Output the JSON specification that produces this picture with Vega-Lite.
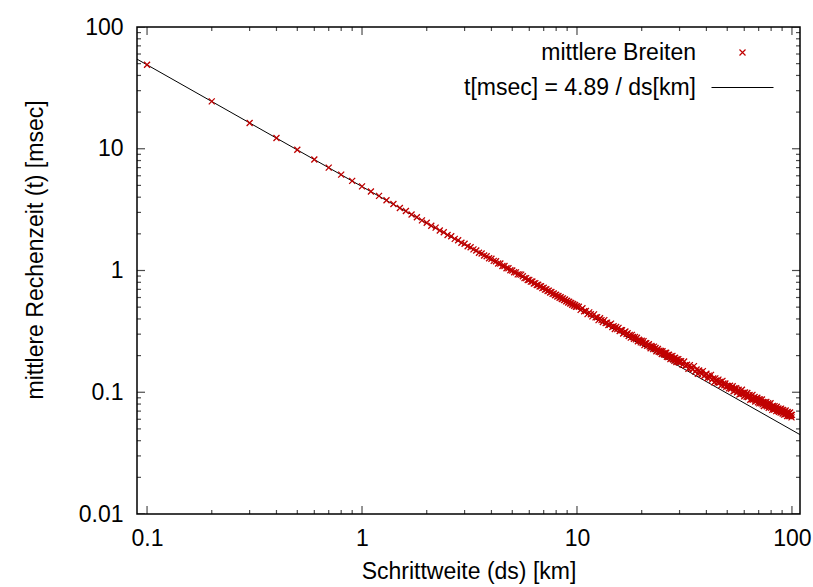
{
  "$schema": "https://vega.github.io/schema/vega-lite/v6.json",
  "width": 663,
  "height": 487,
  "autosize": {"type": "none"},
  "padding": {"left": 137, "top": 27, "right": 13, "bottom": 73},
  "background": "white",
  "config": {
    "font": "Liberation Sans",
    "view": {"stroke": "black", "strokeWidth": 1.5},
    "axis": {
      "grid": false,
      "domain": false,
      "ticks": false,
      "labelColor": "black",
      "titleColor": "black",
      "labelFont": "Liberation Sans",
      "titleFont": "Liberation Sans",
      "labelFontSize": 23,
      "titleFontSize": 23,
      "titleFontWeight": "normal",
      "labelFlush": false,
      "labelOverlap": false
    }
  },
  "datasets": {
    "xmaj": [{"v": 0.1}, {"v": 1}, {"v": 10}, {"v": 100}],
    "xmin": [{"v": 0.2}, {"v": 0.3}, {"v": 0.4}, {"v": 0.5}, {"v": 0.6}, {"v": 0.7}, {"v": 0.8}, {"v": 0.9},
             {"v": 2}, {"v": 3}, {"v": 4}, {"v": 5}, {"v": 6}, {"v": 7}, {"v": 8}, {"v": 9},
             {"v": 20}, {"v": 30}, {"v": 40}, {"v": 50}, {"v": 60}, {"v": 70}, {"v": 80}, {"v": 90}],
    "ymaj": [{"v": 0.01}, {"v": 0.1}, {"v": 1}, {"v": 10}, {"v": 100}],
    "ymin": [{"v": 0.02}, {"v": 0.03}, {"v": 0.04}, {"v": 0.05}, {"v": 0.06}, {"v": 0.07}, {"v": 0.08}, {"v": 0.09},
             {"v": 0.2}, {"v": 0.3}, {"v": 0.4}, {"v": 0.5}, {"v": 0.6}, {"v": 0.7}, {"v": 0.8}, {"v": 0.9},
             {"v": 2}, {"v": 3}, {"v": 4}, {"v": 5}, {"v": 6}, {"v": 7}, {"v": 8}, {"v": 9},
             {"v": 20}, {"v": 30}, {"v": 40}, {"v": 50}, {"v": 60}, {"v": 70}, {"v": 80}, {"v": 90}],
    "fit": [
      {"ds": 0.0898, "t": 54.45},
      {"ds": 109, "t": 0.04486}
    ],
    "obs": [
      {"ds": 0.1, "t": 48.9}, {"ds": 0.2, "t": 24.5}, {"ds": 0.3, "t": 16.3}, {"ds": 0.4, "t": 12.25}, {"ds": 0.5, "t": 9.8},
      {"ds": 0.6, "t": 8.16}, {"ds": 0.7, "t": 7.0}, {"ds": 0.8, "t": 6.13}, {"ds": 0.9, "t": 5.45}, {"ds": 1.0, "t": 4.91},
      {"ds": 1.1, "t": 4.46}, {"ds": 1.2, "t": 4.1}, {"ds": 1.3, "t": 3.77}, {"ds": 1.4, "t": 3.52}, {"ds": 1.5, "t": 3.26},
      {"ds": 1.6, "t": 3.08}, {"ds": 1.7, "t": 2.88}, {"ds": 1.8, "t": 2.74}, {"ds": 1.9, "t": 2.58}, {"ds": 2.0, "t": 2.47},
      {"ds": 2.1, "t": 2.33}, {"ds": 2.2, "t": 2.25}, {"ds": 2.3, "t": 2.13}, {"ds": 2.4, "t": 2.06}, {"ds": 2.5, "t": 1.96},
      {"ds": 2.6, "t": 1.91}, {"ds": 2.7, "t": 1.82}, {"ds": 2.8, "t": 1.77}, {"ds": 2.9, "t": 1.69}, {"ds": 3.0, "t": 1.66},
      {"ds": 3.1, "t": 1.58}, {"ds": 3.2, "t": 1.55}, {"ds": 3.3, "t": 1.49}, {"ds": 3.4, "t": 1.46}, {"ds": 3.5, "t": 1.4},
      {"ds": 3.6, "t": 1.38}, {"ds": 3.7, "t": 1.33}, {"ds": 3.8, "t": 1.31}, {"ds": 3.9, "t": 1.26}, {"ds": 4.0, "t": 1.25},
      {"ds": 4.1, "t": 1.2}, {"ds": 4.2, "t": 1.19}, {"ds": 4.3, "t": 1.14}, {"ds": 4.4, "t": 1.14}, {"ds": 4.5, "t": 1.09},
      {"ds": 4.6, "t": 1.09}, {"ds": 4.7, "t": 1.045}, {"ds": 4.8, "t": 1.045}, {"ds": 4.9, "t": 1.005}, {"ds": 5.0, "t": 1.0},
      {"ds": 5.1, "t": 0.966}, {"ds": 5.2, "t": 0.965}, {"ds": 5.3, "t": 0.93}, {"ds": 5.4, "t": 0.93}, {"ds": 5.5, "t": 0.925},
      {"ds": 5.6, "t": 0.897}, {"ds": 5.7, "t": 0.866}, {"ds": 5.8, "t": 0.866}, {"ds": 5.9, "t": 0.836}, {"ds": 6.0, "t": 0.838},
      {"ds": 6.1, "t": 0.81}, {"ds": 6.2, "t": 0.812}, {"ds": 6.3, "t": 0.783}, {"ds": 6.4, "t": 0.787}, {"ds": 6.5, "t": 0.76},
      {"ds": 6.6, "t": 0.764}, {"ds": 6.7, "t": 0.738}, {"ds": 6.8, "t": 0.742}, {"ds": 6.9, "t": 0.716}, {"ds": 7.0, "t": 0.722},
      {"ds": 7.1, "t": 0.697}, {"ds": 7.2, "t": 0.701}, {"ds": 7.3, "t": 0.678}, {"ds": 7.4, "t": 0.683}, {"ds": 7.5, "t": 0.66},
      {"ds": 7.6, "t": 0.665}, {"ds": 7.7, "t": 0.643}, {"ds": 7.8, "t": 0.648}, {"ds": 7.9, "t": 0.627}, {"ds": 8.0, "t": 0.633},
      {"ds": 8.1, "t": 0.612}, {"ds": 8.2, "t": 0.617}, {"ds": 8.3, "t": 0.598}, {"ds": 8.4, "t": 0.603}, {"ds": 8.5, "t": 0.584},
      {"ds": 8.6, "t": 0.59}, {"ds": 8.7, "t": 0.571}, {"ds": 8.8, "t": 0.577}, {"ds": 8.9, "t": 0.558}, {"ds": 9.0, "t": 0.564},
      {"ds": 9.1, "t": 0.546}, {"ds": 9.2, "t": 0.553}, {"ds": 9.3, "t": 0.535}, {"ds": 9.4, "t": 0.541}, {"ds": 9.5, "t": 0.524},
      {"ds": 9.6, "t": 0.53}, {"ds": 9.7, "t": 0.513}, {"ds": 9.8, "t": 0.52}, {"ds": 9.9, "t": 0.503}, {"ds": 10.0, "t": 0.509},
      {"ds": 10.2, "t": 0.504}, {"ds": 10.4, "t": 0.475}, {"ds": 10.6, "t": 0.49}, {"ds": 10.8, "t": 0.463}, {"ds": 11.0, "t": 0.465},
      {"ds": 11.2, "t": 0.438}, {"ds": 11.4, "t": 0.453}, {"ds": 11.6, "t": 0.437}, {"ds": 11.8, "t": 0.42}, {"ds": 12.0, "t": 0.436},
      {"ds": 12.2, "t": 0.412}, {"ds": 12.4, "t": 0.413}, {"ds": 12.6, "t": 0.391}, {"ds": 12.8, "t": 0.405}, {"ds": 13.0, "t": 0.391},
      {"ds": 13.2, "t": 0.377}, {"ds": 13.4, "t": 0.391}, {"ds": 13.6, "t": 0.371}, {"ds": 13.8, "t": 0.373}, {"ds": 14.0, "t": 0.357},
      {"ds": 14.2, "t": 0.359}, {"ds": 14.4, "t": 0.366}, {"ds": 14.6, "t": 0.343}, {"ds": 14.8, "t": 0.348}, {"ds": 15.0, "t": 0.331},
      {"ds": 15.2, "t": 0.344}, {"ds": 15.4, "t": 0.33}, {"ds": 15.6, "t": 0.338}, {"ds": 15.8, "t": 0.318}, {"ds": 16.0, "t": 0.324},
      {"ds": 16.2, "t": 0.323}, {"ds": 16.4, "t": 0.304}, {"ds": 16.6, "t": 0.31}, {"ds": 16.8, "t": 0.315}, {"ds": 17.0, "t": 0.3},
      {"ds": 17.2, "t": 0.305}, {"ds": 17.4, "t": 0.29}, {"ds": 17.6, "t": 0.296}, {"ds": 17.8, "t": 0.281}, {"ds": 18.0, "t": 0.296},
      {"ds": 18.2, "t": 0.284}, {"ds": 18.4, "t": 0.275}, {"ds": 18.6, "t": 0.284}, {"ds": 18.8, "t": 0.272}, {"ds": 19.0, "t": 0.28},
      {"ds": 19.2, "t": 0.262}, {"ds": 19.4, "t": 0.27}, {"ds": 19.6, "t": 0.265}, {"ds": 19.8, "t": 0.257}, {"ds": 20.0, "t": 0.265},
      {"ds": 20.2, "t": 0.254}, {"ds": 20.4, "t": 0.263}, {"ds": 20.6, "t": 0.244}, {"ds": 20.8, "t": 0.253}, {"ds": 21.0, "t": 0.253},
      {"ds": 21.2, "t": 0.241}, {"ds": 21.4, "t": 0.244}, {"ds": 21.6, "t": 0.248}, {"ds": 21.8, "t": 0.237}, {"ds": 22.0, "t": 0.23},
      {"ds": 22.2, "t": 0.24}, {"ds": 22.4, "t": 0.235}, {"ds": 22.6, "t": 0.226}, {"ds": 22.8, "t": 0.237}, {"ds": 23.0, "t": 0.226},
      {"ds": 23.2, "t": 0.231}, {"ds": 23.4, "t": 0.217}, {"ds": 23.6, "t": 0.222}, {"ds": 23.8, "t": 0.227}, {"ds": 24.0, "t": 0.215},
      {"ds": 24.2, "t": 0.219}, {"ds": 24.4, "t": 0.213}, {"ds": 24.6, "t": 0.218}, {"ds": 24.8, "t": 0.206}, {"ds": 25.0, "t": 0.217},
      {"ds": 25.2, "t": 0.209}, {"ds": 25.4, "t": 0.204}, {"ds": 25.6, "t": 0.21}, {"ds": 25.8, "t": 0.203}, {"ds": 26.0, "t": 0.211},
      {"ds": 26.2, "t": 0.196}, {"ds": 26.4, "t": 0.202}, {"ds": 26.6, "t": 0.195}, {"ds": 26.8, "t": 0.203}, {"ds": 27.0, "t": 0.196},
      {"ds": 27.2, "t": 0.187}, {"ds": 27.4, "t": 0.197}, {"ds": 27.6, "t": 0.19}, {"ds": 27.8, "t": 0.199}, {"ds": 28.0, "t": 0.186},
      {"ds": 28.2, "t": 0.19}, {"ds": 28.4, "t": 0.181}, {"ds": 28.6, "t": 0.192}, {"ds": 28.8, "t": 0.185}, {"ds": 29.0, "t": 0.177},
      {"ds": 29.2, "t": 0.186}, {"ds": 29.4, "t": 0.179}, {"ds": 29.6, "t": 0.187}, {"ds": 29.8, "t": 0.175}, {"ds": 30.0, "t": 0.18},
      {"ds": 30.5, "t": 0.18}, {"ds": 31.0, "t": 0.168}, {"ds": 31.5, "t": 0.179}, {"ds": 32.0, "t": 0.166}, {"ds": 32.5, "t": 0.168},
      {"ds": 33.0, "t": 0.156}, {"ds": 33.5, "t": 0.167}, {"ds": 34.0, "t": 0.159}, {"ds": 34.5, "t": 0.154}, {"ds": 35.0, "t": 0.164},
      {"ds": 35.5, "t": 0.148}, {"ds": 36.0, "t": 0.154}, {"ds": 36.5, "t": 0.142}, {"ds": 37.0, "t": 0.151}, {"ds": 37.5, "t": 0.146},
      {"ds": 38.0, "t": 0.141}, {"ds": 38.5, "t": 0.149}, {"ds": 39.0, "t": 0.136}, {"ds": 39.5, "t": 0.139}, {"ds": 40.0, "t": 0.142},
      {"ds": 40.5, "t": 0.131}, {"ds": 41.0, "t": 0.137}, {"ds": 41.5, "t": 0.132}, {"ds": 42.0, "t": 0.139}, {"ds": 42.5, "t": 0.127},
      {"ds": 43.0, "t": 0.13}, {"ds": 43.5, "t": 0.121}, {"ds": 44.0, "t": 0.13}, {"ds": 44.5, "t": 0.125}, {"ds": 45.0, "t": 0.12},
      {"ds": 45.5, "t": 0.127}, {"ds": 46.0, "t": 0.12}, {"ds": 46.5, "t": 0.122}, {"ds": 47.0, "t": 0.114}, {"ds": 47.5, "t": 0.124},
      {"ds": 48.0, "t": 0.118}, {"ds": 48.5, "t": 0.114}, {"ds": 49.0, "t": 0.118}, {"ds": 49.5, "t": 0.111}, {"ds": 50.0, "t": 0.113},
      {"ds": 50.5, "t": 0.112}, {"ds": 51.0, "t": 0.108}, {"ds": 51.5, "t": 0.113}, {"ds": 52.0, "t": 0.107}, {"ds": 52.5, "t": 0.109},
      {"ds": 53.0, "t": 0.112}, {"ds": 53.5, "t": 0.102}, {"ds": 54.0, "t": 0.108}, {"ds": 54.5, "t": 0.104}, {"ds": 55.0, "t": 0.108},
      {"ds": 55.5, "t": 0.1}, {"ds": 56.0, "t": 0.102}, {"ds": 56.5, "t": 0.105}, {"ds": 57.0, "t": 0.0958}, {"ds": 57.5, "t": 0.101},
      {"ds": 58.0, "t": 0.0973}, {"ds": 58.5, "t": 0.105}, {"ds": 59.0, "t": 0.0969}, {"ds": 59.5, "t": 0.0991}, {"ds": 60.0, "t": 0.0926},
      {"ds": 60.5, "t": 0.0996}, {"ds": 61.0, "t": 0.0952}, {"ds": 61.5, "t": 0.0917}, {"ds": 62.0, "t": 0.0986}, {"ds": 62.5, "t": 0.0913},
      {"ds": 63.0, "t": 0.0935}, {"ds": 63.5, "t": 0.0948}, {"ds": 64.0, "t": 0.0868}, {"ds": 64.5, "t": 0.0926}, {"ds": 65.0, "t": 0.0875},
      {"ds": 65.5, "t": 0.0951}, {"ds": 66.0, "t": 0.0873}, {"ds": 66.5, "t": 0.0885}, {"ds": 67.0, "t": 0.0915}, {"ds": 67.5, "t": 0.0839},
      {"ds": 68.0, "t": 0.0886}, {"ds": 68.5, "t": 0.0855}, {"ds": 69.0, "t": 0.0902}, {"ds": 69.5, "t": 0.0828}, {"ds": 70.0, "t": 0.0874},
      {"ds": 70.5, "t": 0.081}, {"ds": 71.0, "t": 0.0873}, {"ds": 71.5, "t": 0.0834}, {"ds": 72.0, "t": 0.0812}, {"ds": 72.5, "t": 0.0873},
      {"ds": 73.0, "t": 0.0795}, {"ds": 73.5, "t": 0.0831}, {"ds": 74.0, "t": 0.077}, {"ds": 74.5, "t": 0.083}, {"ds": 75.0, "t": 0.081},
      {"ds": 75.5, "t": 0.0782}, {"ds": 76.0, "t": 0.0833}, {"ds": 76.5, "t": 0.0765}, {"ds": 77.0, "t": 0.0785}, {"ds": 77.5, "t": 0.0812},
      {"ds": 78.0, "t": 0.0746}, {"ds": 78.5, "t": 0.0788}, {"ds": 79.0, "t": 0.0761}, {"ds": 79.5, "t": 0.0811}, {"ds": 80.0, "t": 0.0746},
      {"ds": 80.5, "t": 0.0765}, {"ds": 81.0, "t": 0.0716}, {"ds": 81.5, "t": 0.0773}, {"ds": 82.0, "t": 0.0746}, {"ds": 82.5, "t": 0.0721},
      {"ds": 83.0, "t": 0.0769}, {"ds": 83.5, "t": 0.0729}, {"ds": 84.0, "t": 0.0747}, {"ds": 84.5, "t": 0.07}, {"ds": 85.0, "t": 0.0761},
      {"ds": 85.5, "t": 0.0729}, {"ds": 86.0, "t": 0.0705}, {"ds": 86.5, "t": 0.0736}, {"ds": 87.0, "t": 0.0691}, {"ds": 87.5, "t": 0.0709},
      {"ds": 88.0, "t": 0.0727}, {"ds": 88.5, "t": 0.0682}, {"ds": 89.0, "t": 0.0734}, {"ds": 89.5, "t": 0.0689}, {"ds": 90.0, "t": 0.0707},
      {"ds": 90.5, "t": 0.0669}, {"ds": 91.0, "t": 0.0714}, {"ds": 91.5, "t": 0.0684}, {"ds": 92.0, "t": 0.0655}, {"ds": 92.5, "t": 0.0699},
      {"ds": 93.0, "t": 0.0662}, {"ds": 93.5, "t": 0.0707}, {"ds": 94.0, "t": 0.0663}, {"ds": 94.5, "t": 0.068}, {"ds": 95.0, "t": 0.0638},
      {"ds": 95.5, "t": 0.0688}, {"ds": 96.0, "t": 0.0666}, {"ds": 96.5, "t": 0.0637}, {"ds": 97.0, "t": 0.0674}, {"ds": 97.5, "t": 0.0639},
      {"ds": 98.0, "t": 0.0681}, {"ds": 98.5, "t": 0.064}, {"ds": 99.0, "t": 0.065}, {"ds": 99.5, "t": 0.0622}, {"ds": 100.0, "t": 0.0652}
    ]
  },
  "layer": [
    {
      "data": {"name": "fit"},
      "mark": {"type": "line", "strokeWidth": 1, "clip": true},
      "encoding": {
        "x": {
          "field": "ds", "type": "quantitative",
          "scale": {"type": "log", "domain": [0.0898, 109], "nice": false},
          "axis": {
            "orient": "bottom", "values": [0.1, 1, 10, 100],
            "labelExpr": "'' + datum.value", "labelBaseline": "alphabetic", "labelPadding": 31,
            "title": "Schrittweite (ds) [km]", "titleBaseline": "alphabetic", "titleY": 64
          }
        },
        "y": {
          "field": "t", "type": "quantitative",
          "scale": {"type": "log", "domain": [0.01, 100], "nice": false},
          "axis": {
            "orient": "left", "values": [0.01, 0.1, 1, 10, 100],
            "labelExpr": "'' + datum.value", "labelPadding": 14, "labelBaseline": "middle",
            "title": "mittlere Rechenzeit (t) [msec]", "titleAngle": -90, "titleBaseline": "alphabetic",
            "titleAlign": "left", "titleX": -95, "titleY": 372
          }
        },
        "color": {
          "datum": "t[msec] = 4.89 / ds[km]", "type": "nominal",
          "scale": {"domain": ["mittlere Breiten", "t[msec] = 4.89 / ds[km]"], "range": ["#c00000", "#000000"]},
          "legend": {
            "orient": "none", "legendX": 594, "legendY": 14, "title": null, "padding": 0,
            "labelFont": "Liberation Sans", "labelFontSize": 23, "labelColor": "black", "labelLimit": 500,
            "labelAlign": "right", "labelOffset": -58, "labelBaseline": "middle",
            "symbolSize": 36, "rowPadding": 11,
            "encode": {
              "symbols": {
                "update": {
                  "shape": {"signal": "datum.value === 'mittlere Breiten' ? 'M-1,-1L1,1M-1,1L1,-1' : 'M-3,0L3,0'"},
                  "size": {"signal": "datum.value === 'mittlere Breiten' ? 36 : 427"},
                  "stroke": {"signal": "datum.value === 'mittlere Breiten' ? '#c00000' : '#000000'"},
                  "fill": {"value": "transparent"},
                  "strokeWidth": {"value": 1.2},
                  "opacity": {"value": 1}
                }
              }
            }
          }
        }
      }
    },
    {
      "data": {"name": "obs"},
      "mark": {"type": "point", "shape": "M-1,-1L1,1M-1,1L1,-1", "filled": false, "size": 36, "strokeWidth": 1.3, "opacity": 1},
      "encoding": {
        "x": {"field": "ds", "type": "quantitative", "axis": null},
        "y": {"field": "t", "type": "quantitative", "axis": null},
        "color": {"datum": "mittlere Breiten", "type": "nominal"}
      }
    },
    {
      "data": {"name": "xmaj"},
      "mark": {"type": "tick", "orient": "vertical", "size": 16, "thickness": 1.2, "color": "black", "clip": true},
      "encoding": {"x": {"field": "v", "type": "quantitative", "axis": null}, "y": {"datum": 0.01, "type": "quantitative", "axis": null}}
    },
    {
      "data": {"name": "xmaj"},
      "mark": {"type": "tick", "orient": "vertical", "size": 16, "thickness": 1.2, "color": "black", "clip": true},
      "encoding": {"x": {"field": "v", "type": "quantitative", "axis": null}, "y": {"datum": 100, "type": "quantitative", "axis": null}}
    },
    {
      "data": {"name": "xmin"},
      "mark": {"type": "tick", "orient": "vertical", "size": 8, "thickness": 1.2, "color": "black", "clip": true},
      "encoding": {"x": {"field": "v", "type": "quantitative", "axis": null}, "y": {"datum": 0.01, "type": "quantitative", "axis": null}}
    },
    {
      "data": {"name": "xmin"},
      "mark": {"type": "tick", "orient": "vertical", "size": 8, "thickness": 1.2, "color": "black", "clip": true},
      "encoding": {"x": {"field": "v", "type": "quantitative", "axis": null}, "y": {"datum": 100, "type": "quantitative", "axis": null}}
    },
    {
      "data": {"name": "ymaj"},
      "mark": {"type": "tick", "orient": "horizontal", "size": 16, "thickness": 1.2, "color": "black", "clip": true},
      "encoding": {"y": {"field": "v", "type": "quantitative", "axis": null}, "x": {"datum": 0.0898, "type": "quantitative", "axis": null}}
    },
    {
      "data": {"name": "ymaj"},
      "mark": {"type": "tick", "orient": "horizontal", "size": 16, "thickness": 1.2, "color": "black", "clip": true},
      "encoding": {"y": {"field": "v", "type": "quantitative", "axis": null}, "x": {"datum": 109, "type": "quantitative", "axis": null}}
    },
    {
      "data": {"name": "ymin"},
      "mark": {"type": "tick", "orient": "horizontal", "size": 8, "thickness": 1.2, "color": "black", "clip": true},
      "encoding": {"y": {"field": "v", "type": "quantitative", "axis": null}, "x": {"datum": 0.0898, "type": "quantitative", "axis": null}}
    },
    {
      "data": {"name": "ymin"},
      "mark": {"type": "tick", "orient": "horizontal", "size": 8, "thickness": 1.2, "color": "black", "clip": true},
      "encoding": {"y": {"field": "v", "type": "quantitative", "axis": null}, "x": {"datum": 109, "type": "quantitative", "axis": null}}
    }
  ],
  "resolve": {"axis": {"x": "independent", "y": "independent"}}
}
